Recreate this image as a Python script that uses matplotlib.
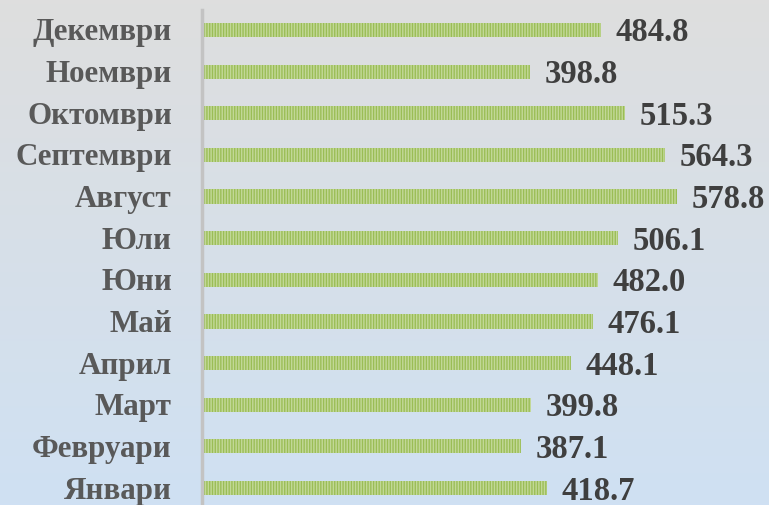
import numpy as np
import matplotlib.pyplot as plt

months = ["Январи", "Февруари", "Март", "Април", "Май", "Юни",
          "Юли", "Август", "Септември", "Октомври", "Ноември", "Декември"]
values = [418.7, 387.1, 399.8, 448.1, 476.1, 482.0,
          506.1, 578.8, 564.3, 515.3, 398.8, 484.8]

plt.rcParams['font.family'] = ['Liberation Serif', 'DejaVu Serif']
plt.rcParams['hatch.linewidth'] = 0.95

fig = plt.figure(figsize=(7.69, 5.05), dpi=100)

# background gradient grey -> light blue
bg = fig.add_axes([0, 0, 1, 1], zorder=-1)
grad = np.linspace(0, 1, 256).reshape(-1, 1)
top = np.array([0.871, 0.871, 0.871])
bot = np.array([0.812, 0.882, 0.953])
img = top + grad[..., None] * (bot - top)
bg.imshow(img, aspect='auto', extent=[0, 1, 0, 1])
bg.axis('off')

ax = fig.add_axes([202 / 769, 0, 1 - 202 / 769, 1])
ax.patch.set_alpha(0)
y = np.arange(len(months))
ax.barh(y, values, height=0.34, left=3, color='#c2d897', edgecolor='#9abd55',
        hatch='||||||', linewidth=0)

for yi, v in zip(y, values):
    ax.annotate(f"{v:.1f}", (v, yi), xytext=(17, -3), textcoords='offset pixels',
                va='center', ha='left', fontsize=23.5, fontweight='bold',
                color='#3f3f3f')

for yi, m in zip(y, months):
    ax.annotate(m, (0, yi), xytext=(-30, -3), textcoords='offset pixels',
                va='center', ha='right', fontsize=22.3, fontweight='bold',
                color='#595959', annotation_clip=False)

ax.set_xlim(0, 694)
ax.set_ylim(-0.408, 11.72)
ax.set_xticks([])
ax.set_yticks([])
for s in ['top', 'right', 'bottom']:
    ax.spines[s].set_visible(False)
ax.spines['left'].set_color('#c3c3c3')
ax.spines['left'].set_linewidth(2.5)
ax.spines['left'].set_bounds(-0.408, 11.72 - 10 / 41.64)

fig.savefig('out.png', dpi=100)
